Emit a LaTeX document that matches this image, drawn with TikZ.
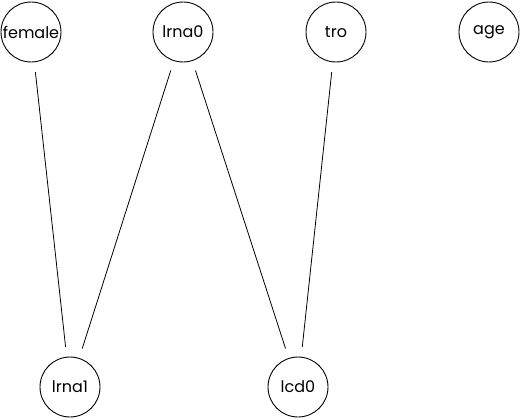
\documentclass[tikz,border=0pt]{standalone}
\usepackage{fontspec}
\setmainfont{Poppins}
\usepackage{tikz}
\usetikzlibrary{positioning}

\begin{document}
\begin{tikzpicture}[
    x=1pt, y=-1pt,
    var/.style={circle, draw, line width=0.9pt, minimum size=60pt, inner sep=0pt, font=\fontsize{16}{19}\selectfont},
    edge/.style={line width=0.8pt, shorten <=10pt, shorten >=10pt}
]
\useasboundingbox (0,0) rectangle (520,420);
\node[var] (female) at (31,32) {female};
\node[var] (lrna0) at (183,32) {lrna0};
\node[var] (tro) at (336,32) {tro};
\node[var] (age) at (489,32) {age};
\node[var] (lrna1) at (70,387) {lrna1};
\node[var] (lcd0) at (298,387) {lcd0};

\draw[edge] (female) -- (lrna1);
\draw[edge] (lrna0) -- (lrna1);
\draw[edge] (lrna0) -- (lcd0);
\draw[edge] (tro) -- (lcd0);
\end{tikzpicture}
\end{document}
